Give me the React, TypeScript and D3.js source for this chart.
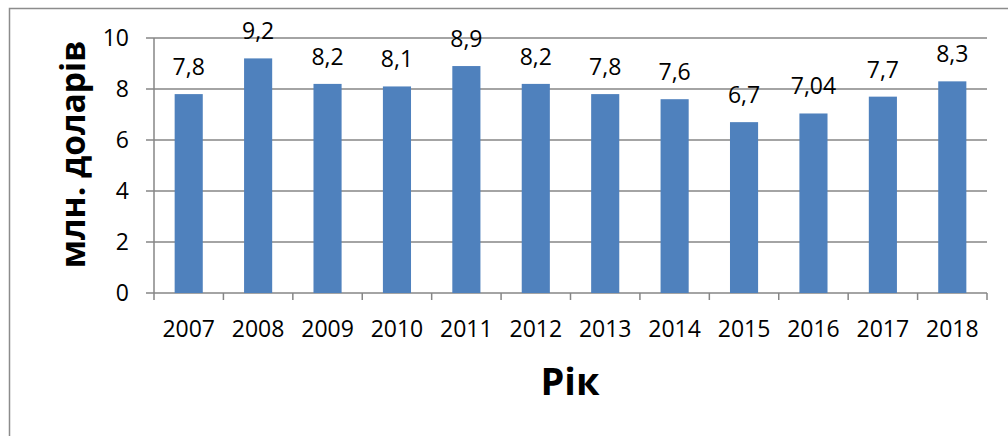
import React from "react";
import * as d3 from "d3";

const years = ["2007", "2008", "2009", "2010", "2011", "2012", "2013", "2014", "2015", "2016", "2017", "2018"];
const values = [7.8, 9.2, 8.2, 8.1, 8.9, 8.2, 7.8, 7.6, 6.7, 7.04, 7.7, 8.3];
const valueLabels = ["7,8", "9,2", "8,2", "8,1", "8,9", "8,2", "7,8", "7,6", "6,7", "7,04", "7,7", "8,3"];
const yTicks = [0, 2, 4, 6, 8, 10];

const W = 1008;
const H = 436;
const plot = { left: 154, right: 987, top: 38, bottom: 293 };
const FONT = "'Open Sans', 'Noto Sans', sans-serif";
const GRID = "#868686";
const FS = 23;

export default function App() {
  const x = d3.scaleBand<string>().domain(years).range([plot.left, plot.right]).paddingInner(0.595).paddingOuter(0.2975);
  const xb = d3.scaleBand<string>().domain(years).range([plot.left, plot.right]);
  const y = d3.scaleLinear().domain([0, 10]).range([plot.bottom, plot.top]);
  const boundaries = years.map((d) => xb(d) as number).concat([plot.right]);

  return (
    <svg width={W} height={H} style={{ position: "fixed", left: 0, top: 0, background: "#fff" }} fontFamily={FONT}>
      <rect x={9.5} y={8.5} width={1010} height={440} fill="#fff" stroke="#8c8c8c" strokeWidth={1.5} />
      {yTicks.map((t) => (
        <g key={t}>
          <line x1={plot.left - 8} x2={plot.right} y1={y(t)} y2={y(t)} stroke={GRID} strokeWidth={1.5} />
          <text x={plot.left - 25} y={y(t)} dy="0.35em" textAnchor="end" fontSize={FS} fill="#000">
            {t}
          </text>
        </g>
      ))}
      <line x1={plot.left} x2={plot.left} y1={plot.top} y2={plot.bottom} stroke={GRID} strokeWidth={1.5} />
      {boundaries.map((b, i) => (
        <line key={i} x1={b} x2={b} y1={plot.bottom} y2={plot.bottom + 7} stroke={GRID} strokeWidth={1.5} />
      ))}
      {years.map((yr, i) => (
        <g key={yr}>
          <rect
            x={x(yr) as number}
            y={y(values[i])}
            width={x.bandwidth()}
            height={y(0) - y(values[i])}
            fill="#4f81bd"
          />
          <text
            x={(x(yr) as number) + x.bandwidth() / 2}
            y={y(values[i]) - 19}
            textAnchor="middle"
            fontSize={FS}
            fill="#000"
          >
            {valueLabels[i]}
          </text>
          <text
            x={(xb(yr) as number) + xb.bandwidth() / 2}
            y={337}
            textAnchor="middle"
            fontSize={FS}
            fill="#000"
          >
            {yr}
          </text>
        </g>
      ))}
      <text
        transform={`translate(85, ${(plot.top + plot.bottom) / 2 - 11}) rotate(-90)`}
        textAnchor="middle"
        fontSize={33.5}
        fontWeight="bold"
        fill="#000"
      >
        млн. доларів
      </text>
      <text x={570} y={395} textAnchor="middle" fontSize={38} fontWeight="bold" fill="#000">
        Рік
      </text>
    </svg>
  );
}
